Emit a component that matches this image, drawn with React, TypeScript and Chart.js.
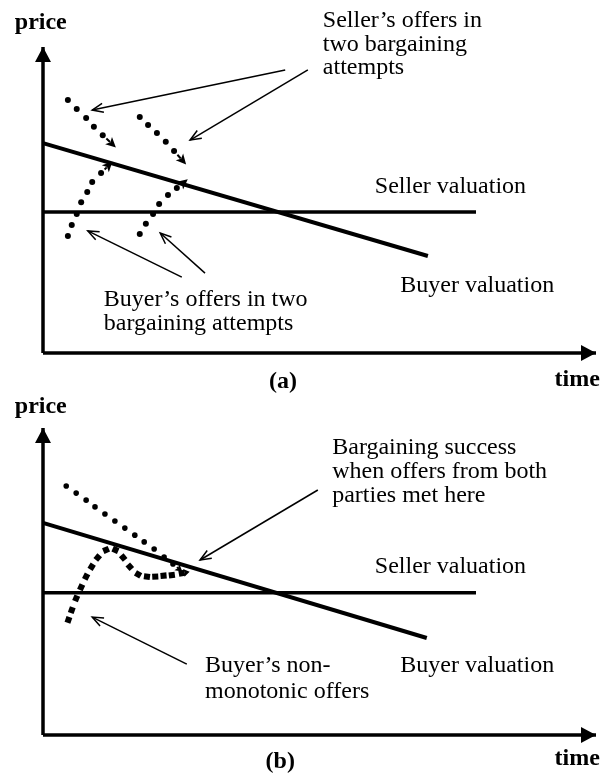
import { useEffect, useRef } from 'react';
import { Chart, registerables } from 'chart.js';

Chart.register(...registerables);

// ---------- shared axes (time 0..100, price 0..100) ----------
const TIME_AXIS_T = [0, 100];
const TIME_AXIS_P = [0, 0];
const PRICE_AXIS_T = [0, 0];
const PRICE_AXIS_P = [0, 100];

// ---------- panel (a) ----------
const A_BUYER_VALUATION_T = [0, 69.6];
const A_BUYER_VALUATION_P = [68.6, 31.7];
const A_SELLER_VALUATION_T = [0, 78.3];
const A_SELLER_VALUATION_P = [46.1, 46.1];
const A_SELLER_OFFERS1_T = [4.5, 6.1, 7.8, 9.2, 10.8];
const A_SELLER_OFFERS1_P = [82.7, 79.7, 76.8, 73.9, 71.2];
const A_SELLER_OFFERS2_T = [17.5, 19.0, 20.6, 22.2, 23.7];
const A_SELLER_OFFERS2_P = [77.1, 74.5, 71.9, 69.0, 66.0];
const A_BUYER_OFFERS1_T = [4.5, 5.2, 6.1, 6.9, 8.0, 8.9, 10.5];
const A_BUYER_OFFERS1_P = [38.2, 41.8, 45.4, 49.3, 52.6, 55.9, 58.8];
const A_BUYER_OFFERS2_T = [17.5, 18.6, 19.9, 21.0, 22.6, 24.2];
const A_BUYER_OFFERS2_P = [38.9, 42.2, 45.4, 48.7, 51.6, 53.9];
const A_SELLER_NOTE1_T = [43.8, 8.9];
const A_SELLER_NOTE1_P = [92.5, 79.4];
const A_SELLER_NOTE2_T = [47.9, 26.6];
const A_SELLER_NOTE2_P = [92.5, 69.6];
const A_BUYER_NOTE1_T = [25.1, 8.1];
const A_BUYER_NOTE1_P = [24.8, 39.9];
const A_BUYER_NOTE2_T = [29.3, 21.2];
const A_BUYER_NOTE2_P = [26.1, 39.2];

// ---------- panel (b) ----------
const B_BUYER_VALUATION_T = [0, 69.4];
const B_BUYER_VALUATION_P = [69.1, 31.6];
const B_SELLER_VALUATION_T = [0, 78.3];
const B_SELLER_VALUATION_P = [46.3, 46.3];
const B_SELLER_OFFERS_T = [4.2, 6.0, 7.8, 9.4, 11.2, 13.0, 14.8, 16.6, 18.3, 20.1, 21.9, 23.5];
const B_SELLER_OFFERS_P = [81.1, 78.8, 76.5, 74.3, 72.0, 69.7, 67.4, 65.1, 62.9, 60.6, 58.0, 55.7];
const B_BUYER_OFFERS_T = [4.6, 5.2, 6.0, 6.9, 7.8, 8.8, 9.9, 11.4, 13.1, 14.5, 15.7, 17.2, 18.8, 20.3, 21.8, 23.3, 25.1];
const B_BUYER_OFFERS_P = [37.5, 40.7, 44.5, 48.1, 51.6, 54.8, 57.8, 60.3, 60.3, 57.8, 54.8, 52.3, 51.6, 51.6, 51.9, 52.1, 52.7];
const B_SUCCESS_NOTE_T = [49.7, 28.4];
const B_SUCCESS_NOTE_P = [79.8, 57.0];
const B_BUYER_NOTE_T = [26.0, 8.9];
const B_BUYER_NOTE_P = [23.1, 38.4];

// ---------- text ----------
const PRICE_LABEL = 'price';
const TIME_LABEL = 'time';
const A_SELLER_NOTE_LINES = ['Seller\u2019s offers in', 'two bargaining', 'attempts'];
const A_BUYER_NOTE_LINES = ['Buyer\u2019s offers in two', 'bargaining attempts'];
const B_SUCCESS_NOTE_LINES = ['Bargaining success', 'when offers from both', 'parties met here'];
const B_BUYER_NOTE_LINES = ['Buyer\u2019s non-', 'monotonic offers'];
const SELLER_VALUATION_LABEL = 'Seller valuation';
const BUYER_VALUATION_LABEL = 'Buyer valuation';

const FONT = "'Liberation Serif', 'Times New Roman', Times, serif";
const FONT_SIZE = 24;

type Head = { len: number; hw: number; ahead?: number; open?: boolean; lw?: number; stem?: number; notch?: number };
type Label = { lines: string[]; t: number; p: number; align?: CanvasTextAlign; bold?: boolean; lh?: number };

const zip = (t: number[], p: number[]) => t.map((x, i) => ({ x, y: p[i] }));

const solid = (t: number[], p: number[], width: number, head?: Head) => ({
  data: zip(t, p),
  showLine: true,
  borderColor: '#000',
  backgroundColor: '#000',
  borderWidth: width,
  pointRadius: 0,
  pointHoverRadius: 0,
  clip: false,
  head,
});

const dots = (t: number[], p: number[], r: number, style: string, head?: Head) => ({
  data: zip(t, p),
  showLine: false,
  pointRadius: r,
  pointHoverRadius: r,
  pointStyle: style,
  pointBackgroundColor: '#000',
  pointBorderColor: '#000',
  pointBorderWidth: 0,
  rotation: (c: any) => {
    if (style !== 'rect') return 0;
    const d = c.dataset.data;
    const i = c.dataIndex;
    const a = d[Math.max(i - 1, 0)];
    const b = d[Math.min(i + 1, d.length - 1)];
    const xs = c.chart.scales.x;
    const ys = c.chart.scales.y;
    if (!xs || !ys) return 0;
    const dx = xs.getPixelForValue(b.x) - xs.getPixelForValue(a.x);
    const dy = ys.getPixelForValue(b.y) - ys.getPixelForValue(a.y);
    return (Math.atan2(dy, dx) * 180) / Math.PI;
  },
  clip: false,
  head,
});

const headPlugin = {
  id: 'arrowHeads',
  afterDatasetsDraw(chart: any) {
    const ctx = chart.ctx as CanvasRenderingContext2D;
    const xs = chart.scales.x;
    const ys = chart.scales.y;
    chart.data.datasets.forEach((ds: any) => {
      const h: Head | undefined = ds.head;
      if (!h) return;
      const pts = ds.data;
      const n = pts.length;
      const x1 = xs.getPixelForValue(pts[n - 2].x);
      const y1 = ys.getPixelForValue(pts[n - 2].y);
      const x2 = xs.getPixelForValue(pts[n - 1].x);
      const y2 = ys.getPixelForValue(pts[n - 1].y);
      let dx = x2 - x1;
      let dy = y2 - y1;
      const L = Math.hypot(dx, dy) || 1;
      dx /= L;
      dy /= L;
      const ahead = h.ahead || 0;
      const tx = x2 + dx * ahead;
      const ty = y2 + dy * ahead;
      const bx = tx - dx * h.len;
      const by = ty - dy * h.len;
      const nx = -dy;
      const ny = dx;
      ctx.save();
      ctx.strokeStyle = '#000';
      ctx.fillStyle = '#000';
      if (h.open) {
        ctx.lineWidth = h.lw || 1.5;
        ctx.lineJoin = 'miter';
        ctx.beginPath();
        ctx.moveTo(bx + nx * h.hw, by + ny * h.hw);
        ctx.lineTo(tx, ty);
        ctx.lineTo(bx - nx * h.hw, by - ny * h.hw);
        ctx.stroke();
      } else {
        if (h.stem) {
          ctx.lineWidth = h.stem;
          ctx.beginPath();
          ctx.moveTo(x2 + dx * 5, y2 + dy * 5);
          ctx.lineTo(bx + dx * 2, by + dy * 2);
          ctx.stroke();
        }
        const notch = h.notch || 0;
        ctx.beginPath();
        ctx.moveTo(tx, ty);
        ctx.lineTo(bx + nx * h.hw, by + ny * h.hw);
        ctx.lineTo(bx + dx * notch, by + dy * notch);
        ctx.lineTo(bx - nx * h.hw, by - ny * h.hw);
        ctx.closePath();
        ctx.fill();
      }
      ctx.restore();
    });
  },
};

const textPlugin = (labels: Label[]) => ({
  id: 'panelTexts',
  afterDraw(chart: any) {
    const ctx = chart.ctx as CanvasRenderingContext2D;
    const xs = chart.scales.x;
    const ys = chart.scales.y;
    ctx.save();
    ctx.fillStyle = '#000';
    ctx.textBaseline = 'alphabetic';
    labels.forEach((l) => {
      ctx.font = `${l.bold ? 'bold ' : ''}${FONT_SIZE}px ${FONT}`;
      ctx.textAlign = l.align || 'left';
      const x = xs.getPixelForValue(l.t);
      const y = ys.getPixelForValue(l.p);
      l.lines.forEach((line, i) => ctx.fillText(line, x, y + i * (l.lh || 24)));
    });
    ctx.restore();
  },
});

const AXIS_HEAD: Head = { len: 15, hw: 8 };
const NOTE_HEAD: Head = { len: 11, hw: 4.5, open: true, lw: 1.5 };
const OFFER_HEAD = (ahead: number): Head => ({ len: 10, hw: 5, ahead, stem: 2, notch: 2.5 });

const axes = () => [solid(TIME_AXIS_T, TIME_AXIS_P, 3.5, AXIS_HEAD), solid(PRICE_AXIS_T, PRICE_AXIS_P, 3.5, AXIS_HEAD)];

type PanelDef = { top: number; height: number; padding: { left: number; right: number; top: number; bottom: number }; datasets: any[]; labels: Label[] };

const PANEL_A: PanelDef = {
  top: 0,
  height: 400,
  padding: { left: 43, right: 15, top: 47, bottom: 47 },
  datasets: [
    ...axes(),
    solid(A_BUYER_VALUATION_T, A_BUYER_VALUATION_P, 4),
    solid(A_SELLER_VALUATION_T, A_SELLER_VALUATION_P, 3.5),
    dots(A_SELLER_OFFERS1_T, A_SELLER_OFFERS1_P, 3, 'circle', OFFER_HEAD(18)),
    dots(A_SELLER_OFFERS2_T, A_SELLER_OFFERS2_P, 3, 'circle', OFFER_HEAD(18)),
    dots(A_BUYER_OFFERS1_T, A_BUYER_OFFERS1_P, 3, 'circle', OFFER_HEAD(16)),
    dots(A_BUYER_OFFERS2_T, A_BUYER_OFFERS2_P, 3, 'circle', OFFER_HEAD(14)),
    solid(A_SELLER_NOTE1_T, A_SELLER_NOTE1_P, 1.5, NOTE_HEAD),
    solid(A_SELLER_NOTE2_T, A_SELLER_NOTE2_P, 1.5, NOTE_HEAD),
    solid(A_BUYER_NOTE1_T, A_BUYER_NOTE1_P, 1.5, NOTE_HEAD),
    solid(A_BUYER_NOTE2_T, A_BUYER_NOTE2_P, 1.5, NOTE_HEAD),
  ],
  labels: [
    { lines: [PRICE_LABEL], t: -5.1, p: 105.9, bold: true },
    { lines: A_SELLER_NOTE_LINES, t: 50.6, p: 106.5, lh: 23.5 },
    { lines: [SELLER_VALUATION_LABEL], t: 60.0, p: 52.3 },
    { lines: [BUYER_VALUATION_LABEL], t: 64.6, p: 19.9 },
    { lines: A_BUYER_NOTE_LINES, t: 11.0, p: 15.4, lh: 24 },
    { lines: ['(a)'], t: 43.4, p: -11.4, bold: true, align: 'center' },
    { lines: [TIME_LABEL], t: 100.7, p: -10.8, bold: true, align: 'right' },
  ],
};

const PANEL_B: PanelDef = {
  top: 388,
  height: 387,
  padding: { left: 43, right: 15, top: 40, bottom: 40 },
  datasets: [
    ...axes(),
    solid(B_BUYER_VALUATION_T, B_BUYER_VALUATION_P, 4),
    solid(B_SELLER_VALUATION_T, B_SELLER_VALUATION_P, 3.5),
    dots(B_SELLER_OFFERS_T, B_SELLER_OFFERS_P, 2.8, 'circle', { len: 7, hw: 4, ahead: 12, stem: 1.5, notch: 1.5 }),
    dots(B_BUYER_OFFERS_T, B_BUYER_OFFERS_P, 4.3, 'rect', { len: 6, hw: 4, ahead: 8, notch: 1 }),
    solid(B_SUCCESS_NOTE_T, B_SUCCESS_NOTE_P, 1.5, NOTE_HEAD),
    solid(B_BUYER_NOTE_T, B_BUYER_NOTE_P, 1.5, NOTE_HEAD),
  ],
  labels: [
    { lines: [PRICE_LABEL], t: -5.1, p: 104.9, bold: true },
    { lines: B_SUCCESS_NOTE_LINES, t: 52.3, p: 91.5, lh: 24 },
    { lines: [SELLER_VALUATION_LABEL], t: 60.0, p: 52.8 },
    { lines: [BUYER_VALUATION_LABEL], t: 64.6, p: 20.5 },
    { lines: B_BUYER_NOTE_LINES, t: 29.3, p: 20.5, lh: 26 },
    { lines: ['(b)'], t: 42.9, p: -10.7, bold: true, align: 'center' },
    { lines: [TIME_LABEL], t: 100.7, p: -9.8, bold: true, align: 'right' },
  ],
};

function Panel({ def }: { def: PanelDef }) {
  const ref = useRef<HTMLCanvasElement | null>(null);
  useEffect(() => {
    if (!ref.current) return;
    const chart = new Chart(ref.current, {
      type: 'scatter',
      data: { datasets: def.datasets as any },
      options: {
        responsive: false,
        animation: false,
        devicePixelRatio: 1,
        events: [],
        layout: { padding: def.padding },
        scales: {
          x: { type: 'linear', min: 0, max: 100, display: false },
          y: { type: 'linear', min: 0, max: 100, display: false },
        },
        plugins: { legend: { display: false }, tooltip: { enabled: false } },
      },
      plugins: [headPlugin, textPlugin(def.labels)],
    } as any);
    return () => chart.destroy();
  }, [def]);
  return (
    <canvas
      ref={ref}
      width={611}
      height={def.height}
      style={{ position: 'absolute', left: 0, top: def.top, display: 'block', width: 611, height: def.height }}
    />
  );
}

export default function App() {
  return (
    <div style={{ position: 'absolute', left: 0, top: 0, width: 611, height: 775, background: '#fff' }}>
      <Panel def={PANEL_A} />
      <Panel def={PANEL_B} />
    </div>
  );
}
